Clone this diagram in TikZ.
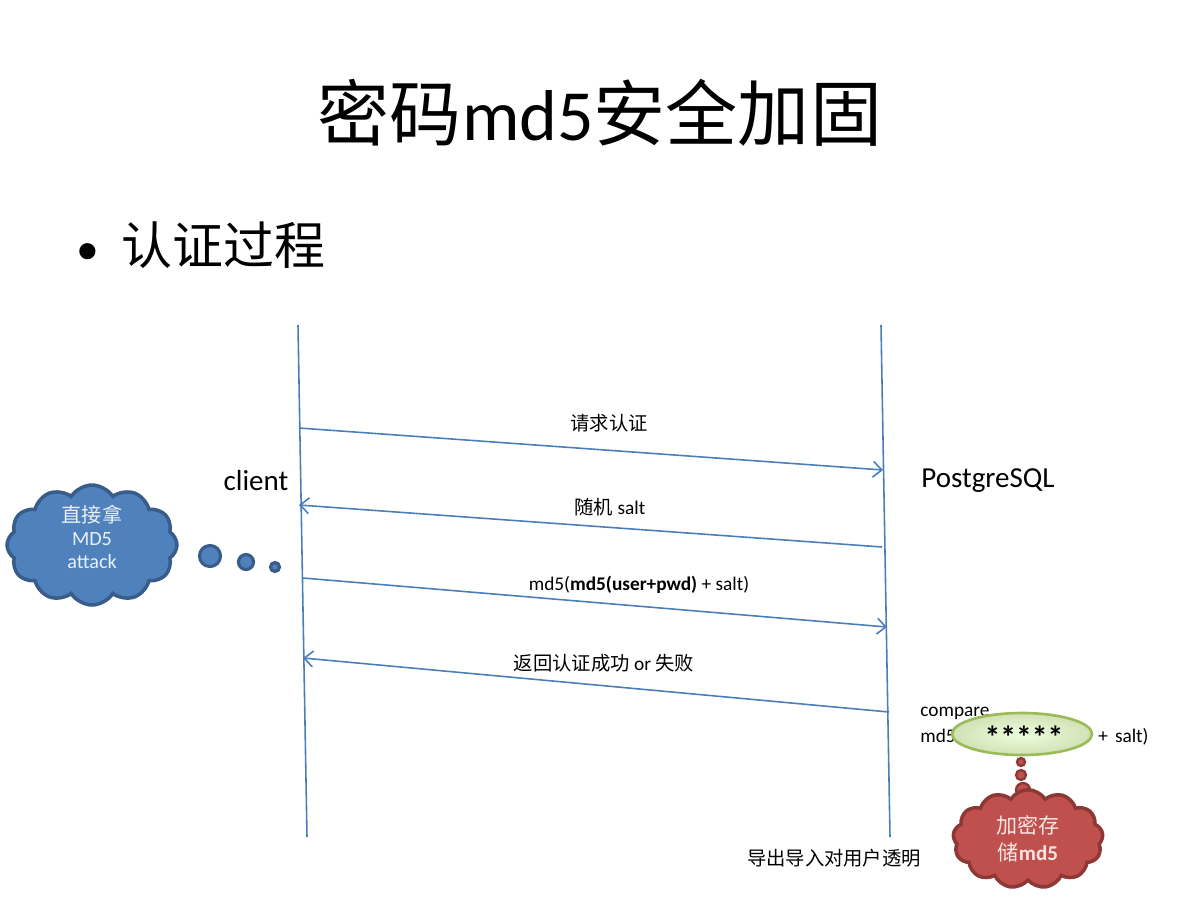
\documentclass[tikz,border=0pt]{standalone}
\usepackage{fontspec}
\setmainfont{Carlito}
\newfontfamily\cjk{Noto Sans CJK SC}
\usetikzlibrary{shapes.symbols,shapes.geometric,arrows.meta}
\definecolor{lineblue}{HTML}{4A7EBB}
\definecolor{cloudblue}{HTML}{4F81BD}
\definecolor{cloudblueb}{HTML}{385D8A}
\definecolor{cloudred}{HTML}{C0504D}
\definecolor{cloudredb}{HTML}{8C3836}
\definecolor{greenb}{HTML}{9BBB59}
\begin{document}
\begin{tikzpicture}[x=0.02cm,y=-0.02cm,
  lifeline/.style={draw=lineblue,line width=0.9pt},
  msg/.style={draw=lineblue,line width=0.9pt,-{Straight Barb[length=5pt,width=9pt]}},
  msglabel/.style={font=\fontsize{11}{13}\selectfont,inner sep=0pt},
  bubbleb/.style={circle,fill=cloudblue,draw=cloudblueb,line width=1.8pt,inner sep=0pt},
  bubbler/.style={circle,fill=cloudred,draw=cloudredb,line width=1.3pt,inner sep=0pt},
]
\useasboundingbox (0,0) rectangle (1200,900);
% title
\node (title) at (600,113) {\fontsize{41}{48}\selectfont\cjk 密码{\fontspec{Carlito}md5}安全加固};
\node[anchor=west] (bullet) at (70,245) {\fontsize{29}{34}\selectfont{\fontsize{26}{30}\selectfont •}\hspace{13pt}{\cjk 认证过程}};
% lifelines
\coordinate (cTop) at (298,325);
\coordinate (cBot) at (307,837);
\coordinate (sTop) at (881,325);
\coordinate (sBot) at (890,837);
\draw[lifeline] (cTop) -- (cBot);
\draw[lifeline] (sTop) -- (sBot);
\node (client) at (256,481) {\fontsize{16.5}{20}\selectfont client};
\node (pg) at (988,481) {\fontsize{16.5}{20}\selectfont PostgreSQL};
% messages
\coordinate (m1a) at (299,428); \coordinate (m1b) at (883,470);
\coordinate (m2a) at (882,547); \coordinate (m2b) at (299,505);
\coordinate (m3a) at (303,578); \coordinate (m3b) at (887,627);
\coordinate (m4a) at (889,712); \coordinate (m4b) at (303,658);
\draw[msg] (m1a) -- (m1b);
\draw[msg] (m2a) -- (m2b);
\draw[msg] (m3a) -- (m3b);
\draw[msg] (m4a) -- (m4b);
\node[msglabel] (l1) at (609,423) {\cjk 请求认证};
\node[msglabel] (l2) at (610,507) {{\cjk 随机} salt};
\node[msglabel] (l3) at (639,585) {md5(\textbf{md5(user+pwd)} + salt)};
\node[msglabel] (l4) at (604,663) {{\cjk 返回认证成功} or {\cjk 失败}};
% blue cloud
\node[cloud,cloud puffs=12,cloud puff arc=115,fill=cloudblue,draw=cloudblueb,line width=2pt,minimum width=3.4cm,minimum height=2.4cm,inner sep=0pt] (bc) at (92,545) {};
\node[align=center,inner sep=0pt,text=white!88!cloudblue,font=\fontsize{11.5}{13.2}\selectfont] (bct) at (92,537) {{\cjk 直接拿}\\MD5\\attack};
\node[bubbleb,minimum size=0.42cm] (b1) at (210,556) {};
\node[bubbleb,minimum size=0.3cm] (b2) at (246,562) {};
\node[bubbleb,minimum size=0.18cm] (b3) at (275,567) {};
% compare text and ellipse
\node[anchor=west,msglabel] (cmp) at (920,713) {compare};
\node[anchor=west,msglabel] (cmd) at (920,737) {md5(};
\node[anchor=west,msglabel] (csalt) at (1098,737) {+\hspace{4pt}salt)};
\node[ellipse,draw=greenb,line width=1.5pt,inner color=green!8!white!95!yellow,outer color=greenb!45!white,minimum width=2.8cm,minimum height=0.84cm,inner sep=0pt] (star) at (1022,734) {};
\node[inner sep=0pt,font=\fontsize{18}{18}\selectfont\bfseries] (startext) at (1024,737) {*****};
% red bubbles and cloud
\node[bubbler,minimum size=0.16cm] (r1) at (1021,762) {};
\node[bubbler,minimum size=0.2cm] (r2) at (1021,775) {};
\node[bubbler,minimum size=0.28cm] (r3) at (1023,790) {};
\node[cloud,cloud puffs=13,cloud puff arc=115,fill=cloudred,draw=cloudredb,line width=2pt,minimum width=3.0cm,minimum height=1.7cm,inner sep=0pt,text=white!85!cloudred,align=center,font=\fontsize{12}{15}\selectfont] (rc) at (1028,839) {{\cjk 加密存}\\{\cjk 储}\textbf{md5}};
\node[msglabel] (exp) at (834,858) {\cjk 导出导入对用户透明};
\end{tikzpicture}
\end{document}
